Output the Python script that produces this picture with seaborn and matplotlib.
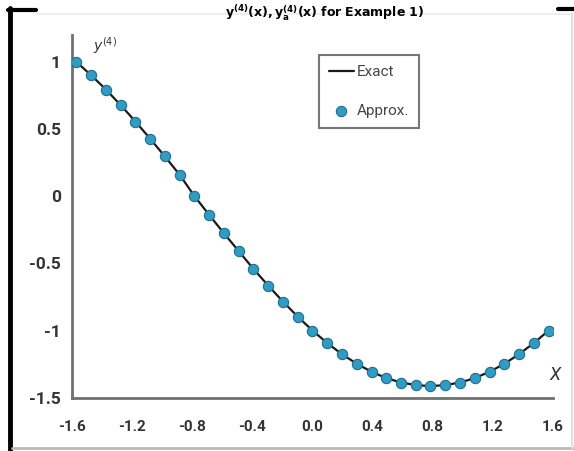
import matplotlib
matplotlib.use("Agg")
import matplotlib.pyplot as plt
from matplotlib.lines import Line2D
from matplotlib import font_manager
import seaborn as sns
import pandas as pd

x_vals = [-1.571, -1.473, -1.374, -1.276, -1.178, -1.080, -0.982, -0.884,
          -0.785, -0.687, -0.589, -0.491, -0.393, -0.295, -0.196, -0.098,
          0.000, 0.098, 0.196, 0.295, 0.393, 0.491, 0.589, 0.687,
          0.785, 0.884, 0.982, 1.080, 1.178, 1.276, 1.374, 1.473, 1.571]
y_vals = [1.000, 0.901, 0.794, 0.678, 0.556, 0.428, 0.296, 0.160,
          0.000, -0.140, -0.276, -0.409, -0.541, -0.665, -0.785, -0.897,
          -1.000, -1.093, -1.176, -1.248, -1.307, -1.354, -1.387, -1.406,
          -1.414, -1.406, -1.387, -1.354, -1.307, -1.248, -1.176, -1.093, -1.000]
x_ticks = [-1.6, -1.2, -0.8, -0.4, 0.0, 0.4, 0.8, 1.2, 1.6]
x_tick_labels = ["-1.6", "-1.2", "-0.8", "-0.4", "0.0", "0.4", "0.8", "1.2", "1.6"]
y_ticks = [-1.5, -1.0, -0.5, 0.0, 0.5, 1.0]
y_tick_labels = ["-1.5", "-1", "-0.5", "0", "0.5", "1"]

df = pd.DataFrame({"x": x_vals, "y": y_vals})

sns.set_style("white")
names = {f.name for f in font_manager.fontManager.ttflist}
narrow = "Liberation Sans Narrow" if "Liberation Sans Narrow" in names else "Roboto"
plt.rcParams["font.family"] = [narrow, "DejaVu Sans"]

fig = plt.figure(figsize=(5.74, 4.51), dpi=100)
ax = fig.add_axes([0.1254, 0.1182, 0.838, 0.8042])

sns.lineplot(data=df, x="x", y="y", ax=ax, color="#1a1a1a", linewidth=1.6,
             label="Exact", sort=False)
sns.scatterplot(data=df, x="x", y="y", ax=ax, color="#2e9cc4", edgecolor="#1d6f8c",
                linewidth=0.8, s=55, label="Approx.", zorder=3)

ax.set_xlim(-1.6, 1.6)
ax.set_ylim(-1.5, 1.2)
ax.set_xticks(x_ticks)
ax.set_xticklabels(x_tick_labels)
ax.set_yticks(y_ticks)
ax.set_yticklabels(y_tick_labels)
ax.set_xlabel("")
ax.set_ylabel("")
for side in ["top", "right"]:
    ax.spines[side].set_visible(False)
for side in ["left", "bottom"]:
    ax.spines[side].set_color("#707070")
    ax.spines[side].set_linewidth(2.0)
ax.tick_params(axis="both", which="both", direction="out", length=4, width=1.5,
               color="#707070", labelcolor="#333333")
ax.tick_params(axis="x", pad=12, labelsize=11)
ax.tick_params(axis="y", pad=4, labelsize=12.5)
for lab in ax.get_xticklabels() + ax.get_yticklabels():
    lab.set_fontweight("bold")

ax.text(-1.46, 1.12, r"$y^{(4)}$", fontsize=10, color="#333333",
        ha="left", va="center")
ax.text(1.615, -1.33, "X", fontsize=13, fontstyle="italic", color="#333333",
        ha="center", va="center", clip_on=False)

leg = ax.legend(loc="upper left", bbox_to_anchor=(0.514, 0.944), frameon=True,
                fontsize=11, handlelength=1.6, handletextpad=0.2, labelspacing=1.6,
                borderpad=0.65, borderaxespad=0, fancybox=False, labelcolor="#444444")
leg.get_frame().set_edgecolor("#555555")
leg.get_frame().set_linewidth(1.5)

# header text at the very top of the picture
fig.text(0.565, 0.992, r"$\mathbf{y^{(4)}(x), y^{(4)}_{a}(x)\ for\ Example\ 1)}$",
         fontsize=9, ha="center", va="top", color="black")

# frame decorations
W, H = 574.0, 451.0
def fx(px):
    return px / W
def fy(py):
    return 1 - py / H
fig.add_artist(Line2D([fx(10), fx(10)], [fy(8), fy(451)], color="black", linewidth=3.5))
fig.add_artist(Line2D([fx(8), fx(36)], [fy(9.5), fy(9.5)], color="black", linewidth=3.0))
fig.add_artist(Line2D([fx(558), fx(574)], [fy(8.5), fy(8.5)], color="black", linewidth=3.0))
fig.add_artist(Line2D([fx(36), fx(571)], [fy(14), fy(14)], color="#eeeeee", linewidth=1.5))
fig.add_artist(Line2D([fx(12), fx(574)], [fy(448), fy(448)], color="#bbbbbb", linewidth=2.0))
fig.add_artist(Line2D([fx(571.5), fx(571.5)], [fy(14), fy(448)], color="#e0e0e0", linewidth=1.5))

fig.savefig("out.png", dpi=100)
